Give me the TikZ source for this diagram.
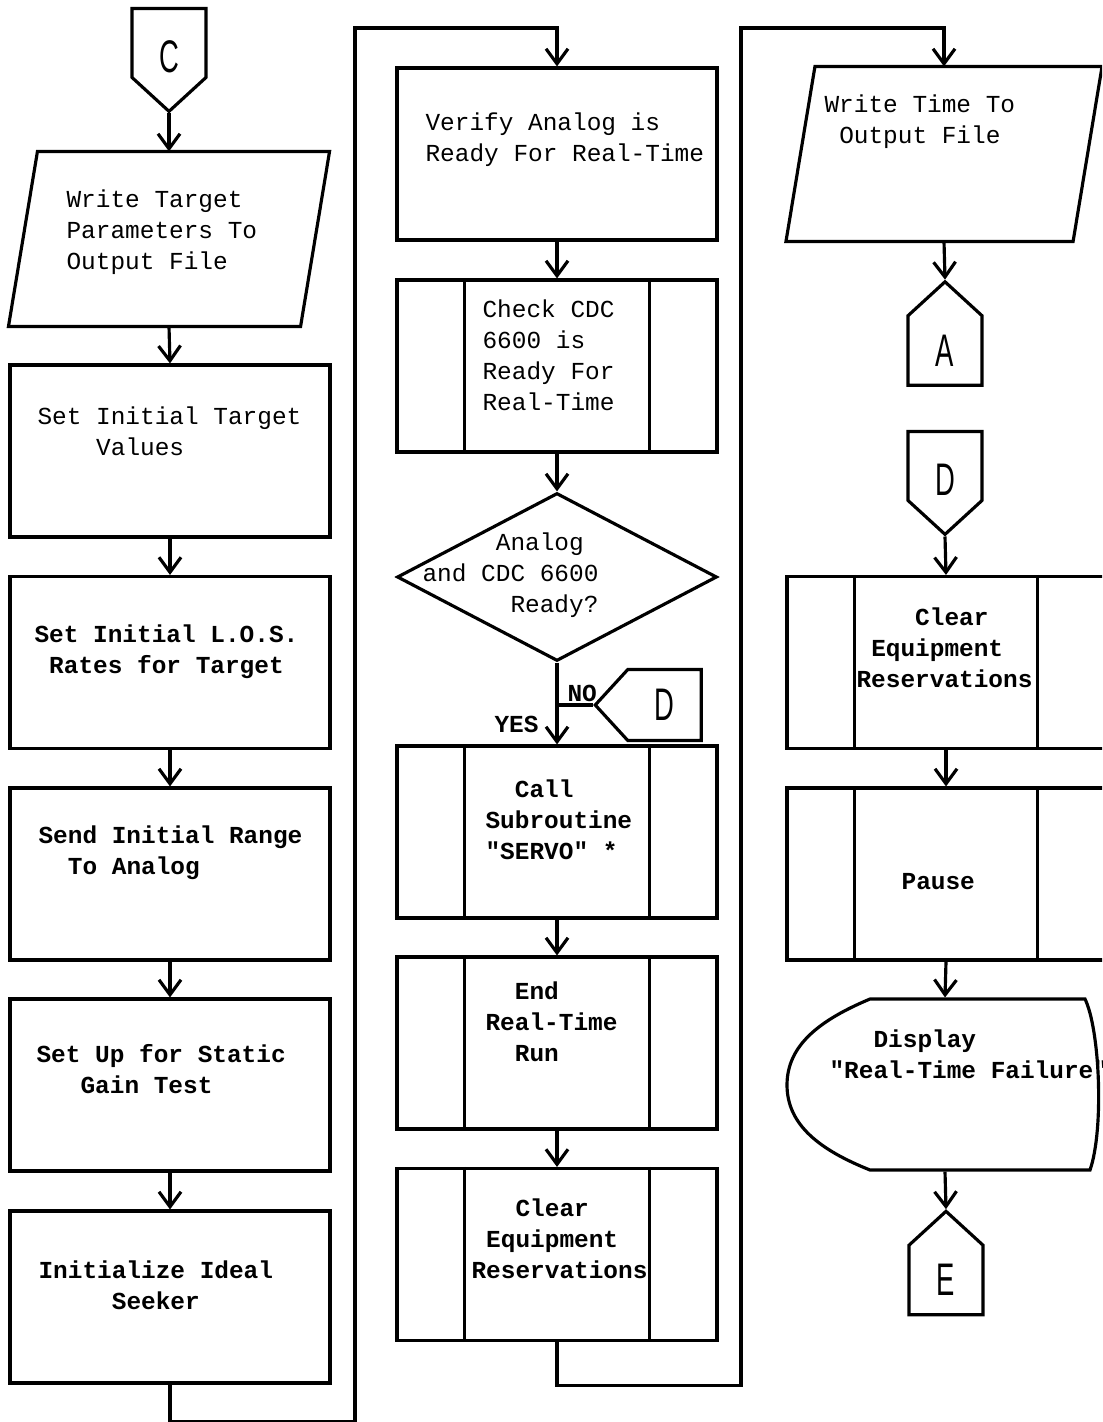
\documentclass[tikz,border=0pt]{standalone}
\usepackage{fontspec}
\setmonofont{Liberation Mono}
\setsansfont{Liberation Sans}
\usetikzlibrary{arrows.meta,shapes.geometric,shapes.symbols}
\newcommand{\offpg}[1]{\scalebox{0.6}[1]{\sffamily #1}}
\newcommand{\offdn}[1]{\raisebox{-17pt}[0pt][0pt]{\offpg{#1}}}

\begin{document}
\begin{tikzpicture}[x=0.02cm, y=-0.02cm, line width=1.8pt,
  every node/.style={font=\fontsize{13.9}{17.6}\selectfont\ttfamily},
  proc/.style={draw, rectangle, minimum width=6.4cm, minimum height=3.44cm, inner sep=0pt},
  io/.style={rectangle, minimum width=6.36cm, minimum height=3.44cm, inner sep=0pt},
  dec/.style={draw, diamond, minimum width=6.4cm, minimum height=3.36cm, inner sep=0pt},
  conn/.style={draw, signal, signal pointer angle=95, minimum width=1.48cm,
    minimum height=1.56cm, inner sep=0pt, font=\fontsize{26}{26}\selectfont},
  txt/.style={anchor=north west, align=left, inner sep=0pt},
  txtb/.style={txt, font=\fontsize{13.9}{17.6}\selectfont\ttfamily\bfseries},
  flow/.style={-{Straight Barb[length=3mm,width=4.4mm]}}]
\clip (0,0) rectangle (1102,1422);

% first column
\node[conn, signal to=south] (offC) at (169,43) {\offdn{C}};
\node[io] (wtp) at (169,239) {};
\node[proc] (ival) at (170,451) {};
\node[proc] (los) at (170,662.5) {};
\node[proc] (rng) at (170,874) {};
\node[proc] (gain) at (170,1085) {};
\node[proc] (seek) at (170,1297) {};
\node[txt] (wtpT) at (65,188) {Write Target\\Parameters To\\Output File};
\node[txt] (ivalT) at (36,405) {Set Initial Target\\\hphantom{0000}Values};
\node[txtb] (losT) at (33,623) {Set Initial L.O.S.\\\hphantom{0}Rates for Target};
\node[txtb] (rngT) at (37,824) {Send Initial Range\\\hphantom{00}To Analog};
\node[txtb] (gainT) at (35,1043) {Set Up for Static\\\hphantom{000}Gain Test};
\node[txtb] (seekT) at (37,1259) {Initialize Ideal\\\hphantom{00000}Seeker};

% second column
\node[proc] (verify) at (557,154) {};
\node[proc] (check) at (557,366) {};
\node[dec] (ready) at (557,577) {};
\node[proc] (call) at (557,832) {};
\node[proc] (endrt) at (557,1043) {};
\node[proc] (clr2) at (557,1254.5) {};
\node[conn, signal to=west, minimum width=2.12cm, minimum height=1.42cm] (offD1) at (664.5,705) {\offpg{D}\hspace{14pt}};
\coordinate (nobr) at (557,705);
\node[txt] (verifyT) at (424,111) {Verify Analog is\\Ready For Real-Time};
\node[txt] (checkT) at (481,298) {Check CDC\\6600 is\\Ready For\\Real-Time};
\node[txt] (readyT) at (421,531) {\hphantom{00000}Analog\\and CDC 6600\\\hphantom{000000}Ready?};
\node[txtb] (no) at (566,684) {NO};
\node[txtb] (yes) at (493,715) {YES};
\node[txtb] (callT) at (484,778) {\hphantom{00}Call\\Subroutine\\"SERVO" *};
\node[txtb] (endrtT) at (484,980) {\hphantom{00}End\\Real-Time\\\hphantom{00}Run};
\node[txtb] (clr2T) at (470,1197) {\hphantom{000}Clear\\\hphantom{0}Equipment\\Reservations};

% third column
\node[io, minimum width=6.26cm] (wtime) at (944,154) {};
\node[conn, signal to=north] (offA) at (945,350.5) {\offpg{A}};
\node[conn, signal to=south] (offD2) at (945,466) {\offdn{D}};
\node[proc, minimum width=6.36cm] (clr3) at (946,662.5) {};
\node[proc, minimum width=6.36cm] (pause) at (946,874) {};
\node[minimum width=6.3cm, minimum height=3.42cm] (disp) at (945,1084.5) {};
\node[conn, signal to=north] (offE) at (946,1280) {\offpg{E}};
\node[txt] (wtimeT) at (823,93) {Write Time To\\\hphantom{0}Output File};
\node[txtb] (clr3T) at (855,606) {\hphantom{0000}Clear\\\hphantom{0}Equipment\\Reservations};
\node[txtb] (pauseT) at (900,872) {Pause};
\node[txtb] (dispT) at (828,1028) {\hphantom{000}Display\\"Real-Time Failure"};
\draw (870,999) -- (1085,999) .. controls (1100,1030) and (1104,1130) .. (1090,1170)
  -- (870,1170) .. controls (820,1150) and (787,1125) .. (787,1085)
  .. controls (787,1045) and (820,1020) .. (870,999) -- cycle;

% slanted input/output boxes
\foreach \n in {wtp,wtime}
  \draw ([xshift=0.58cm]\n.north west) -- (\n.north east)
     -- ([xshift=-0.58cm]\n.south east) -- (\n.south west) -- cycle;
\foreach \n in {check,call,endrt,clr2,clr3,pause}
  \draw ([xshift=1.38cm]\n.north west) -- ([xshift=1.38cm]\n.south west)
        ([xshift=-1.38cm]\n.north east) -- ([xshift=-1.38cm]\n.south east);

\draw[flow] (offC.south) -- (wtp.north);
\draw[flow] (wtp.south) -- (ival.north);
\foreach \a/\b in {ival/los,los/rng,rng/gain,gain/seek,verify/check,check/ready,
  ready/call,call/endrt,endrt/clr2,clr3/pause,pause/disp}
  \draw[flow] (\a.south) -- (\b.north);
\draw[flow] (seek.south) -- ++(0,37) -| (355,28) -| (verify.north);
\draw[flow] (clr2.south) -- ++(0,43) -| (741,28) -| (wtime.north);
\draw[flow] (wtime.south) -- (offA.north);
\draw[flow] (offD2.south) -- (clr3.north);
\draw[flow] (disp.south) -- (offE.north);
\draw (nobr) -- (offD1.west);
\end{tikzpicture}
\end{document}
